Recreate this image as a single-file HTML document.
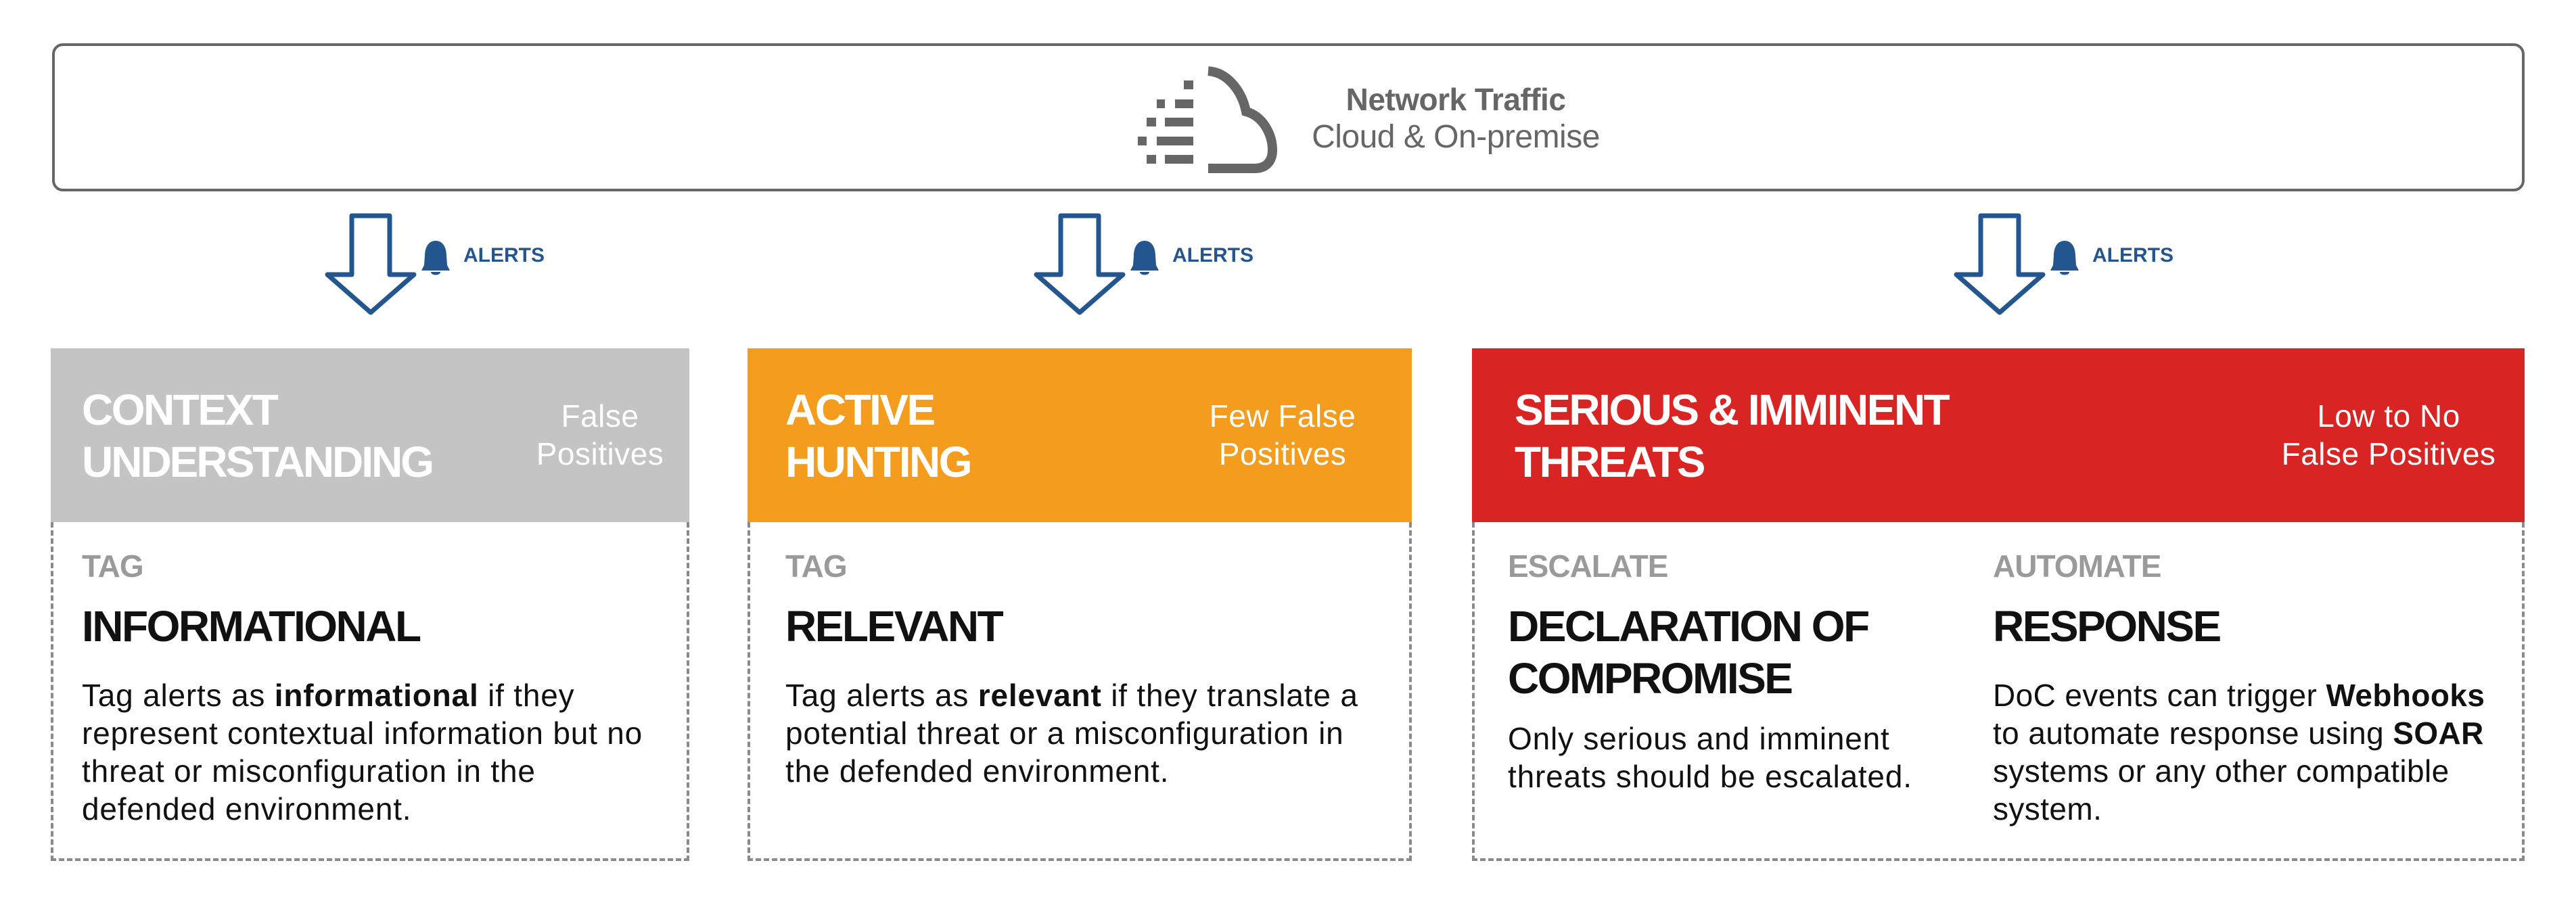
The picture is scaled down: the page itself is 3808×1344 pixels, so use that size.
<!DOCTYPE html>
<html><head><meta charset="utf-8">
<style>
*{margin:0;padding:0;box-sizing:border-box}
body{width:3808px;height:1344px;background:#fff;position:relative;overflow:hidden;font-family:"Liberation Sans",Arial,sans-serif}
.a{position:absolute;white-space:nowrap}
.hdr{position:absolute;top:515px;height:257px}
.body{position:absolute;top:772px;height:501px;border:4px dashed #8a8a8a;border-top:none}
.t{font-size:64px;font-weight:bold;color:#fff;line-height:64px;letter-spacing:-2.5px}
.r{font-size:46px;color:#fff;line-height:56px;text-align:center;letter-spacing:0.5px}
.tag{font-size:46px;font-weight:bold;color:#9a9a9a;line-height:46px;letter-spacing:-1px}
.ti{font-size:64px;font-weight:bold;color:#111;line-height:77px;letter-spacing:-2.5px}
.b{font-size:46px;color:#111;line-height:56px;letter-spacing:0.8px}
.al{font-size:30px;font-weight:bold;color:#23568f;line-height:32px}
</style></head><body>
<div class="a" style="left:77px;top:64px;width:3655px;height:219px;border:4px solid #666;border-radius:16px"></div>
<svg class="a" style="left:0;top:0" width="3808" height="500">
 <g fill="#666">
  <rect x="1750" y="119" width="14" height="13"/>
  <rect x="1710" y="147" width="12" height="13"/><rect x="1737" y="147" width="27" height="13"/>
  <rect x="1695" y="174" width="14" height="13"/><rect x="1722" y="174" width="42" height="13"/>
  <rect x="1682" y="202" width="13" height="13"/><rect x="1710" y="202" width="54" height="13"/>
  <rect x="1695" y="229" width="14" height="13"/><rect x="1722" y="229" width="42" height="13"/>
 </g>
 <path d="M1786 105 C1815 107 1836 135 1842 165 C1868 172 1881 200 1881 222 C1881 238 1872 249 1855 249 L1786 249" fill="none" stroke="#666" stroke-width="14"/>
 <g fill="none" stroke="#23568f" stroke-width="7" stroke-linejoin="round">
  <path d="M520 319 L576 319 L576 406 L612 406 L548 462 L484 406 L520 406 Z"/>
  <path d="M1568 319 L1624 319 L1624 406 L1660 406 L1596 462 L1532 406 L1568 406 Z"/>
  <path d="M2928 319 L2984 319 L2984 406 L3020 406 L2956 462 L2892 406 L2928 406 Z"/>
 </g>
 <g fill="#23568f">
  <g id="bl"><path d="M644 356 C632 356 628 368 628 378 L627 392 L623 400 L665 400 L661 392 L660 378 C660 368 656 356 644 356 Z"/><path d="M637 402 L651 402 C651 408 637 408 637 402 Z"/></g>
  <use href="#bl" x="1048"/><use href="#bl" x="2408"/>
 </g>
</svg>
<div class="a" style="left:1852px;width:600px;top:124px;text-align:center;font-size:46px;font-weight:bold;color:#666;line-height:46px;letter-spacing:-0.5px">Network Traffic</div>
<div class="a" style="left:1852px;width:600px;top:179px;text-align:center;font-size:48px;color:#666;line-height:48px;letter-spacing:-0.5px">Cloud &amp; On-premise</div>
<div class="a al" style="left:685px;top:362px">ALERTS</div>
<div class="a al" style="left:1733px;top:362px">ALERTS</div>
<div class="a al" style="left:3093px;top:362px">ALERTS</div>

<!-- card 1 -->
<div class="hdr" style="left:75px;width:944px;background:#c4c4c4"></div>
<div class="body" style="left:75px;width:944px"></div>
<div class="a t" style="left:121px;top:574px">CONTEXT</div>
<div class="a t" style="left:121px;top:651px;letter-spacing:-3px">UNDERSTANDING</div>
<div class="a r" style="left:787px;width:200px;top:587px">False<br>Positives</div>
<div class="a tag" style="left:121px;top:814px">TAG</div>
<div class="a ti" style="left:121px;top:888px">INFORMATIONAL</div>
<div class="a b" style="left:121px;top:1000px">Tag alerts as <b>informational</b> if they<br>represent contextual information but no<br>threat or misconfiguration in the<br>defended environment.</div>

<!-- card 2 -->
<div class="hdr" style="left:1105px;width:982px;background:#f39c1e"></div>
<div class="body" style="left:1105px;width:982px"></div>
<div class="a t" style="left:1161px;top:574px">ACTIVE</div>
<div class="a t" style="left:1161px;top:651px">HUNTING</div>
<div class="a r" style="left:1776px;width:240px;top:587px">Few False<br>Positives</div>
<div class="a tag" style="left:1161px;top:814px">TAG</div>
<div class="a ti" style="left:1161px;top:888px">RELEVANT</div>
<div class="a b" style="left:1161px;top:1000px">Tag alerts as <b>relevant</b> if they translate a<br>potential threat or a misconfiguration in<br>the defended environment.</div>

<!-- card 3 -->
<div class="hdr" style="left:2176px;width:1556px;background:#d92424"></div>
<div class="body" style="left:2176px;width:1556px"></div>
<div class="a t" style="left:2239px;top:574px">SERIOUS &amp; IMMINENT</div>
<div class="a t" style="left:2239px;top:651px">THREATS</div>
<div class="a r" style="left:3361px;width:340px;top:587px">Low to No<br>False Positives</div>
<div class="a tag" style="left:2229px;top:814px">ESCALATE</div>
<div class="a tag" style="left:2946px;top:814px">AUTOMATE</div>
<div class="a ti" style="left:2229px;top:888px">DECLARATION OF<br>COMPROMISE</div>
<div class="a ti" style="left:2946px;top:888px">RESPONSE</div>
<div class="a b" style="left:2229px;top:1064px">Only serious and imminent<br>threats should be escalated.</div>
<div class="a b" style="left:2946px;top:1000px;letter-spacing:0.4px">DoC events can trigger <b>Webhooks</b><br>to automate response using <b>SOAR</b><br>systems or any other compatible<br>system.</div>
</body></html>
